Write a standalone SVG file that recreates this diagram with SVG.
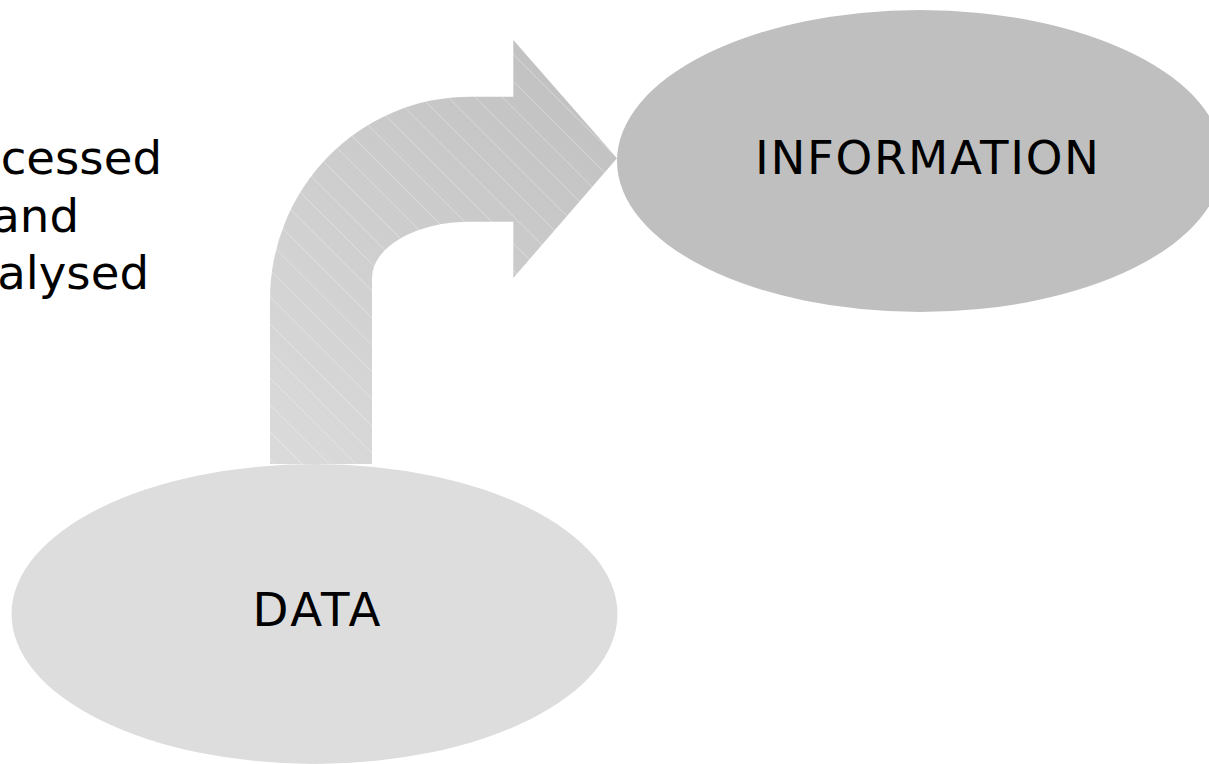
<svg xmlns="http://www.w3.org/2000/svg" width="1209" height="764" viewBox="0 0 1209 764">
  <style>
    .lbl { font-family: Verdana, "DejaVu Sans", sans-serif; font-size: 46.67px; fill: #000000; }
    .mid { text-anchor: middle; }
    .end { text-anchor: end; }
  </style>
  <defs>
    <linearGradient id="arrowGrad" gradientUnits="userSpaceOnUse" x1="300" y1="464" x2="600" y2="110">
      <stop offset="0" stop-color="#dadada"/>
      <stop offset="1" stop-color="#c2c2c2"/>
    </linearGradient>
    <pattern id="hatch" patternUnits="userSpaceOnUse" width="27" height="27">
      <path d="M0 0 L27 27 M-2 25 L2 29 M25 -2 L29 2" stroke="#ffffff" stroke-opacity="0.4" stroke-width="0.8" fill="none"/>
    </pattern>
  </defs>
  <rect width="1209" height="764" fill="#ffffff"/>

  <g id="node-data">
    <ellipse cx="314.5" cy="614" rx="303" ry="150" fill="#dddddd"/>
    <text class="lbl mid" x="316.5" y="626" textLength="128" lengthAdjust="spacing">DATA</text>
  </g>

  <g id="node-information">
    <ellipse cx="920" cy="161" rx="303" ry="151" fill="#bfbfbf"/>
    <text class="lbl mid" x="927" y="174" textLength="344" lengthAdjust="spacing">INFORMATION</text>
  </g>

  <g id="connectors">
    <path id="arrow-shape" d="M270 464 L270 300 A200 203 0 0 1 470 96.7 L513.3 96.7 L513.3 40 L617 158.3 L513.3 278 L513.3 221.7 L470 221.7 A98 56.3 0 0 0 372 278 L372 464 Z" fill="url(#arrowGrad)"/>
    <path d="M270 464 L270 300 A200 203 0 0 1 470 96.7 L513.3 96.7 L513.3 40 L617 158.3 L513.3 278 L513.3 221.7 L470 221.7 A98 56.3 0 0 0 372 278 L372 464 Z" fill="url(#hatch)"/>
  </g>

  <g id="note">
    <text class="lbl end" x="162" y="174">Processed</text>
    <text class="lbl end" x="79" y="232">and</text>
    <text class="lbl end" x="149" y="289">analysed</text>
  </g>
</svg>
